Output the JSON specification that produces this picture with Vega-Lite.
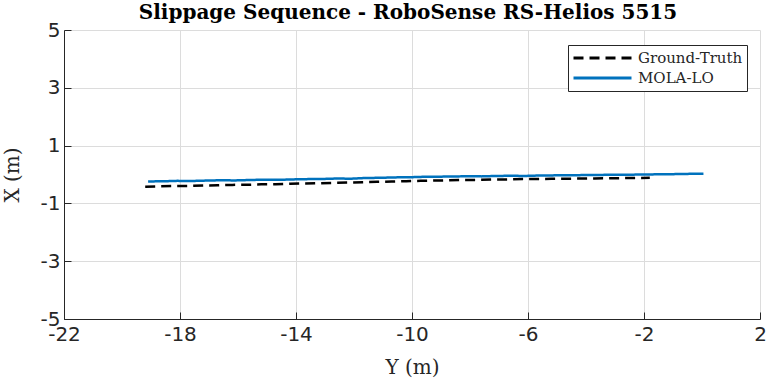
{
  "$schema": "https://vega.github.io/schema/vega-lite/v6.json",
  "width": 696,
  "height": 289,
  "autosize": {"type": "none"},
  "padding": {"left": 64, "top": 30, "right": 9, "bottom": 63},
  "background": "white",
  "view": {"stroke": null},
  "title": {
    "text": "Slippage Sequence - RoboSense RS-Helios 5515",
    "font": "DejaVu Serif",
    "fontSize": 20,
    "fontWeight": "bold",
    "color": "black",
    "anchor": "middle",
    "frame": "group",
    "baseline": "alphabetic",
    "offset": 2,
    "dy": 21,
    "dx": -4
  },
  "data": {
    "values": [
      {"series": "Ground-Truth", "Y": -19.2, "X": -0.42},
      {"series": "Ground-Truth", "Y": -18.7, "X": -0.41},
      {"series": "Ground-Truth", "Y": -18.2, "X": -0.4},
      {"series": "Ground-Truth", "Y": -17.7, "X": -0.395},
      {"series": "Ground-Truth", "Y": -17.2, "X": -0.38},
      {"series": "Ground-Truth", "Y": -16.7, "X": -0.375},
      {"series": "Ground-Truth", "Y": -16.2, "X": -0.36},
      {"series": "Ground-Truth", "Y": -15.7, "X": -0.355},
      {"series": "Ground-Truth", "Y": -15.2, "X": -0.34},
      {"series": "Ground-Truth", "Y": -14.7, "X": -0.335},
      {"series": "Ground-Truth", "Y": -14.2, "X": -0.32},
      {"series": "Ground-Truth", "Y": -13.7, "X": -0.31},
      {"series": "Ground-Truth", "Y": -13.2, "X": -0.3},
      {"series": "Ground-Truth", "Y": -12.7, "X": -0.29},
      {"series": "Ground-Truth", "Y": -12.2, "X": -0.28},
      {"series": "Ground-Truth", "Y": -11.7, "X": -0.27},
      {"series": "Ground-Truth", "Y": -11.2, "X": -0.255},
      {"series": "Ground-Truth", "Y": -10.7, "X": -0.245},
      {"series": "Ground-Truth", "Y": -10.2, "X": -0.23},
      {"series": "Ground-Truth", "Y": -9.7, "X": -0.22},
      {"series": "Ground-Truth", "Y": -9.2, "X": -0.21},
      {"series": "Ground-Truth", "Y": -8.7, "X": -0.2},
      {"series": "Ground-Truth", "Y": -8.2, "X": -0.19},
      {"series": "Ground-Truth", "Y": -7.7, "X": -0.185},
      {"series": "Ground-Truth", "Y": -7.2, "X": -0.175},
      {"series": "Ground-Truth", "Y": -6.7, "X": -0.17},
      {"series": "Ground-Truth", "Y": -6.2, "X": -0.16},
      {"series": "Ground-Truth", "Y": -5.7, "X": -0.155},
      {"series": "Ground-Truth", "Y": -5.2, "X": -0.15},
      {"series": "Ground-Truth", "Y": -4.7, "X": -0.145},
      {"series": "Ground-Truth", "Y": -4.2, "X": -0.14},
      {"series": "Ground-Truth", "Y": -3.7, "X": -0.135},
      {"series": "Ground-Truth", "Y": -3.2, "X": -0.13},
      {"series": "Ground-Truth", "Y": -2.7, "X": -0.125},
      {"series": "Ground-Truth", "Y": -2.2, "X": -0.12},
      {"series": "Ground-Truth", "Y": -1.8, "X": -0.115},
      {"series": "MOLA-LO", "Y": -19.1, "X": -0.24},
      {"series": "MOLA-LO", "Y": -18.6, "X": -0.235},
      {"series": "MOLA-LO", "Y": -18.1, "X": -0.22},
      {"series": "MOLA-LO", "Y": -17.6, "X": -0.225},
      {"series": "MOLA-LO", "Y": -17.1, "X": -0.21},
      {"series": "MOLA-LO", "Y": -16.6, "X": -0.2},
      {"series": "MOLA-LO", "Y": -16.1, "X": -0.205},
      {"series": "MOLA-LO", "Y": -15.6, "X": -0.19},
      {"series": "MOLA-LO", "Y": -15.1, "X": -0.18},
      {"series": "MOLA-LO", "Y": -14.6, "X": -0.185},
      {"series": "MOLA-LO", "Y": -14.1, "X": -0.17},
      {"series": "MOLA-LO", "Y": -13.6, "X": -0.16},
      {"series": "MOLA-LO", "Y": -13.1, "X": -0.155},
      {"series": "MOLA-LO", "Y": -12.6, "X": -0.14},
      {"series": "MOLA-LO", "Y": -12.1, "X": -0.145},
      {"series": "MOLA-LO", "Y": -11.6, "X": -0.12},
      {"series": "MOLA-LO", "Y": -11.1, "X": -0.115},
      {"series": "MOLA-LO", "Y": -10.6, "X": -0.1},
      {"series": "MOLA-LO", "Y": -10.1, "X": -0.095},
      {"series": "MOLA-LO", "Y": -9.6, "X": -0.08},
      {"series": "MOLA-LO", "Y": -9.1, "X": -0.075},
      {"series": "MOLA-LO", "Y": -8.6, "X": -0.07},
      {"series": "MOLA-LO", "Y": -8.1, "X": -0.06},
      {"series": "MOLA-LO", "Y": -7.6, "X": -0.065},
      {"series": "MOLA-LO", "Y": -7.1, "X": -0.05},
      {"series": "MOLA-LO", "Y": -6.6, "X": -0.045},
      {"series": "MOLA-LO", "Y": -6.1, "X": -0.05},
      {"series": "MOLA-LO", "Y": -5.6, "X": -0.035},
      {"series": "MOLA-LO", "Y": -5.1, "X": -0.03},
      {"series": "MOLA-LO", "Y": -4.6, "X": -0.03},
      {"series": "MOLA-LO", "Y": -4.1, "X": -0.02},
      {"series": "MOLA-LO", "Y": -3.6, "X": -0.015},
      {"series": "MOLA-LO", "Y": -3.1, "X": -0.01},
      {"series": "MOLA-LO", "Y": -2.6, "X": -0.01},
      {"series": "MOLA-LO", "Y": -2.1, "X": 0.0},
      {"series": "MOLA-LO", "Y": -1.6, "X": 0.005},
      {"series": "MOLA-LO", "Y": -1.1, "X": 0.01},
      {"series": "MOLA-LO", "Y": -0.6, "X": 0.02},
      {"series": "MOLA-LO", "Y": -0.2, "X": 0.025},
      {"series": "MOLA-LO", "Y": 0.05, "X": 0.03}
    ]
  },
  "mark": {"type": "line", "strokeWidth": 2.5, "clip": true},
  "encoding": {
    "x": {
      "field": "Y",
      "type": "quantitative",
      "scale": {"domain": [-22, 2], "nice": false, "zero": false},
      "axis": {
        "values": [-22, -18, -14, -10, -6, -2, 2],
        "labelExpr": "'' + datum.value",
        "title": "Y (m)",
        "titleFont": "DejaVu Serif",
        "titleFontSize": 20,
        "titleFontWeight": "normal",
        "titleColor": "#262626",
        "titleBaseline": "alphabetic",
        "titleY": 54,
        "titleX": 348,
        "labelFont": "DejaVu Sans",
        "labelFontSize": 20,
        "labelColor": "#262626",
        "labelPadding": 12,
        "labelFlush": false,
        "labelOverlap": false,
        "tickSize": -7,
        "tickColor": "#262626",
        "domainColor": "#262626",
        "gridColor": "#dcdcdc",
        "gridWidth": 1
      }
    },
    "y": {
      "field": "X",
      "type": "quantitative",
      "scale": {"domain": [-5, 5], "nice": false, "zero": false},
      "axis": {
        "values": [-5, -3, -1, 1, 3, 5],
        "labelExpr": "'' + datum.value",
        "title": "X (m)",
        "titleFont": "DejaVu Serif",
        "titleFontSize": 20,
        "titleFontWeight": "normal",
        "titleColor": "#262626",
        "titleAngle": 270,
        "titleBaseline": "middle",
        "titleX": -52,
        "titleY": 144.5,
        "labelFont": "DejaVu Sans",
        "labelFontSize": 20,
        "labelColor": "#262626",
        "labelPadding": 11,
        "labelFlush": false,
        "labelOverlap": false,
        "tickSize": -7,
        "tickColor": "#262626",
        "domainColor": "#262626",
        "gridColor": "#dcdcdc",
        "gridWidth": 1
      }
    },
    "color": {
      "field": "series",
      "type": "nominal",
      "scale": {"domain": ["Ground-Truth", "MOLA-LO"], "range": ["#000000", "#0072BD"]},
      "legend": {
        "title": null,
        "orient": "none",
        "legendX": 504,
        "legendY": 15,
        "padding": 4,
        "fillColor": "white",
        "strokeColor": "#262626",
        "symbolType": "stroke",
        "symbolSize": 3364,
        "symbolStrokeWidth": 3,
        "clipHeight": 18,
        "labelFont": "DejaVu Serif",
        "labelFontSize": 15,
        "labelColor": "#262626",
        "labelOffset": 5,
        "rowPadding": 2,
        "cornerRadius": 0
      }
    },
    "strokeDash": {
      "field": "series",
      "type": "nominal",
      "scale": {"domain": ["Ground-Truth", "MOLA-LO"], "range": [[10, 6], [1, 0]]},
      "legend": {
        "title": null,
        "orient": "none",
        "legendX": 504,
        "legendY": 15,
        "padding": 4,
        "fillColor": "white",
        "strokeColor": "#262626",
        "symbolType": "stroke",
        "symbolSize": 3364,
        "symbolStrokeWidth": 3,
        "clipHeight": 18,
        "labelFont": "DejaVu Serif",
        "labelFontSize": 15,
        "labelColor": "#262626",
        "labelOffset": 5,
        "rowPadding": 2,
        "cornerRadius": 0
      }
    }
  }
}
